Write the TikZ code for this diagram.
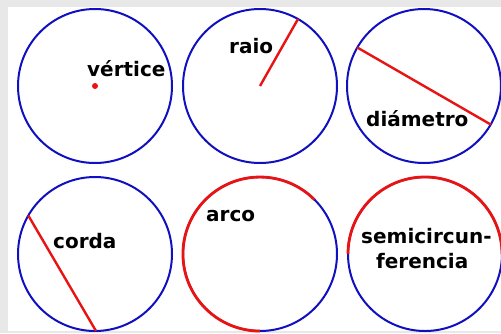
\documentclass[tikz,border=0pt]{standalone}
\usepackage{fontspec}
\setmainfont{DejaVu Sans}
\definecolor{cblue}{HTML}{1010C0}
\definecolor{cred}{HTML}{E81414}
\definecolor{bggray}{HTML}{E8E8E8}
\tikzset{
  circ/.style={draw=cblue, line width=2pt},
  redline/.style={draw=cred, line width=2.4pt},
  lbl/.style={font=\bfseries\fontsize{20}{22}\selectfont, inner sep=0pt, anchor=base west, text=black}
}
\begin{document}
\begin{tikzpicture}[x=1pt,y=-1pt]
\useasboundingbox (0,0) rectangle (501,333);
\fill[bggray] (0,0) rectangle (501,333);
\fill[white] (8,7) rectangle (501,331);
% centers
\coordinate (c1) at (95,86);
\coordinate (c2) at (260,86);
\coordinate (c3) at (424,86);
\coordinate (c4) at (95,254);
\coordinate (c5) at (260,254);
\coordinate (c6) at (425,254);
% circle 1: vertice
\draw[circ] (c1) circle[radius=77];
\fill[cred] (c1) circle[radius=3];
\node[lbl] (t1) at (87,76) {vértice};
% circle 2: raio
\draw[circ] (c2) circle[radius=77];
\draw[redline] (c2) -- ([shift={(38,-67)}]c2);
\node[lbl] (t2) at (229,53) {raio};
% circle 3: diametro
\draw[circ] (c3) circle[radius=77];
\draw[redline] ([shift={(-66.7,-38.5)}]c3) -- ([shift={(66.7,38.5)}]c3);
\node[lbl] (t3) at (366,126) {diámetro};
% circle 4: corda
\draw[circ] (c4) circle[radius=77];
\draw[redline] ([shift={(-66.7,-38.5)}]c4) -- ([shift={(1,77)}]c4);
\node[lbl] (t4) at (53,248) {corda};
% circle 5: arco
\draw[circ] (c5) circle[radius=77];
\draw[draw=cred, line width=2.8pt] ([shift={(54.4,-54.4)}]c5) arc[start angle=-45, end angle=-270, radius=77];
\node[lbl] (t5) at (206,221) {arco};
% circle 6: semicircunferencia
\draw[circ] (c6) circle[radius=77];
\draw[draw=cred, line width=2.8pt] ([shift={(-77,0)}]c6) arc[start angle=180, end angle=360, radius=77];
\node[lbl] (t6) at (361,243) {semicircun-};
\node[lbl] (t7) at (376,268) {ferencia};
\end{tikzpicture}
\end{document}
